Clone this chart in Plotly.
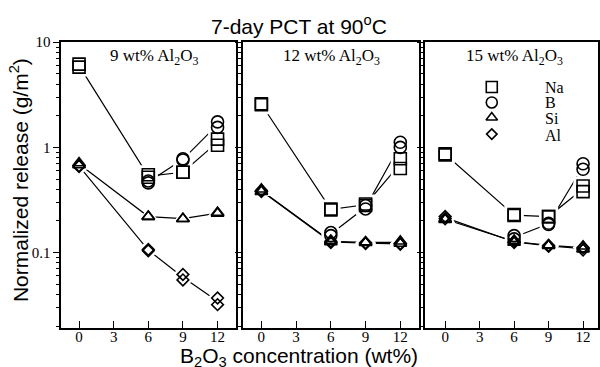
import plotly.graph_objects as go
import numpy as np

# ---------------- data ----------------
b2o3 = [0, 6, 9, 12]
x_ticks = [0, 3, 6, 9, 12]
panel_labels = ["9 wt% Al<sub>2</sub>O<sub>3</sub>",
                "12 wt% Al<sub>2</sub>O<sub>3</sub>",
                "15 wt% Al<sub>2</sub>O<sub>3</sub>"]
elements = ["Na", "B", "Si", "Al"]

# replicate 1 / replicate 2, per panel (9, 12, 15 wt% Al2O3)
na_9_r1 = [6.2, 0.55, 0.58, 1.20]
na_9_r2 = [5.8, 0.52, 0.58, 1.05]
b_9_r1 = [None, 0.48, 0.78, 1.75]
b_9_r2 = [None, 0.46, 0.76, 1.55]
si_9_r1 = [0.71, 0.22, 0.21, 0.24]
si_9_r2 = [0.68, 0.22, 0.21, 0.235]
al_9_r1 = [0.67, 0.107, 0.062, 0.037]
al_9_r2 = [0.66, 0.104, 0.055, 0.032]

na_12_r1 = [2.6, 0.26, 0.29, 0.78]
na_12_r2 = [2.55, 0.255, 0.28, 0.63]
b_12_r1 = [None, 0.155, 0.28, 1.12]
b_12_r2 = [None, 0.145, 0.26, 1.00]
si_12_r1 = [0.40, 0.130, 0.126, 0.128]
si_12_r2 = [0.38, 0.126, 0.124, 0.122]
al_12_r1 = [0.39, 0.128, 0.124, 0.122]
al_12_r2 = [0.38, 0.125, 0.122, 0.120]

na_15_r1 = [0.87, 0.230, 0.220, 0.43]
na_15_r2 = [0.85, 0.225, 0.220, 0.38]
b_15_r1 = [None, 0.145, 0.190, 0.70]
b_15_r2 = [None, 0.135, 0.185, 0.62]
si_15_r1 = [0.21, 0.130, 0.118, 0.115]
si_15_r2 = [0.205, 0.125, 0.116, 0.108]
al_15_r1 = [0.22, 0.128, 0.117, 0.112]
al_15_r2 = [0.21, 0.125, 0.115, 0.106]

panels = [
    {"Na": (na_9_r1, na_9_r2), "B": (b_9_r1, b_9_r2), "Si": (si_9_r1, si_9_r2), "Al": (al_9_r1, al_9_r2)},
    {"Na": (na_12_r1, na_12_r2), "B": (b_12_r1, b_12_r2), "Si": (si_12_r1, si_12_r2), "Al": (al_12_r1, al_12_r2)},
    {"Na": (na_15_r1, na_15_r2), "B": (b_15_r1, b_15_r2), "Si": (si_15_r1, si_15_r2), "Al": (al_15_r1, al_15_r2)},
]

# ---------------- style ----------------
SERIF = "Liberation Serif"
SANS = "Liberation Sans"
symbols = {"Na": "square-open", "B": "circle-open", "Si": "triangle-up-open", "Al": "diamond-open"}
sizes = {"Na": 12, "B": 12, "Si": 11, "Al": 9}

W, H = 600, 367
px_x = [(61.7, 236.7), (244.0, 420.7), (426.7, 600.0)]
x_ranges = [[-1.52, 13.59], [-1.57, 13.64], [-1.73, 13.3]]
y_top, y_bot = 35.0, 326.7
y_dom = [1 - y_bot / H, 1 - y_top / H]
y_range = [-1.713, 1.0]

minor_vals = [m * 10.0 ** e for e in (-2, -1, 0) for m in range(2, 10)]

fig = go.Figure()

def ax_name(i, kind):
    return kind if i == 0 else f"{kind}{i + 1}"

# lines (means of replicates)
for i, pdata in enumerate(panels):
    xa, ya = ax_name(i, "x"), ax_name(i, "y")
    for el in elements:
        r1, r2 = pdata[el]
        xs, ms = [], []
        for x, a, b in zip(b2o3, r1, r2):
            if a is None:
                continue
            xs.append(x)
            ms.append(float(np.sqrt(a * b)))
        fig.add_trace(go.Scatter(x=xs, y=ms, mode="lines", xaxis=xa, yaxis=ya,
                                 line=dict(color="black", width=1.2),
                                 showlegend=False, hoverinfo="skip"))
# white halos to break lines at markers
for i, pdata in enumerate(panels):
    xa, ya = ax_name(i, "x"), ax_name(i, "y")
    for el in elements:
        for rep in pdata[el]:
            fig.add_trace(go.Scatter(x=b2o3, y=rep, mode="markers", xaxis=xa, yaxis=ya,
                                     marker=dict(symbol=symbols[el].replace("-open", ""),
                                                 size=sizes[el] + 7, color="white",
                                                 line=dict(width=0)),
                                     showlegend=False, hoverinfo="skip"))
# markers
for i, pdata in enumerate(panels):
    xa, ya = ax_name(i, "x"), ax_name(i, "y")
    for el in elements:
        for rep in pdata[el]:
            fig.add_trace(go.Scatter(x=b2o3, y=rep, mode="markers", xaxis=xa, yaxis=ya, name=el,
                                     marker=dict(symbol=symbols[el], size=sizes[el], color="black",
                                                 line=dict(width=1.6, color="black")),
                                     showlegend=False))

# legend keys on an overlay axis in panel 3
leg_y = [0.843, 0.789, 0.736, 0.678]
for el, yy in zip(elements, leg_y):
    fig.add_trace(go.Scatter(x=[0.385], y=[yy], mode="markers", xaxis="x4", yaxis="y4",
                             marker=dict(symbol=symbols[el], size=sizes[el] - 1, color="black",
                                         line=dict(width=1.6, color="black")),
                             showlegend=False, hoverinfo="skip"))

layout = dict(
    width=W, height=H, margin=dict(l=0, r=0, t=0, b=0, pad=0),
    paper_bgcolor="white", plot_bgcolor="white", showlegend=False,
    font=dict(family=SERIF, size=14, color="black"),
)
for i in range(3):
    xk = "xaxis" if i == 0 else f"xaxis{i + 1}"
    yk = "yaxis" if i == 0 else f"yaxis{i + 1}"
    layout[xk] = dict(domain=[px_x[i][0] / W, px_x[i][1] / W], range=x_ranges[i],
                      anchor=ax_name(i, "y"), showgrid=False, zeroline=False,
                      showline=True, linecolor="black", linewidth=2, mirror=True,
                      tickmode="array", tickvals=x_ticks, ticks="inside", ticklen=7,
                      tickwidth=1.2, tickcolor="black", ticklabelstandoff=-6,
                      tickfont=dict(family=SERIF, size=15))
    layout[yk] = dict(domain=y_dom, type="log", range=y_range, anchor=ax_name(i, "x"),
                      showgrid=False, zeroline=False, showline=True, linecolor="black",
                      linewidth=2, mirror=True, tickmode="array", tickvals=[0.1, 1, 10],
                      ticktext=["0.1", "1", "10"], ticks="outside", ticklen=6, tickwidth=1.2,
                      tickcolor="black", showticklabels=(i == 0),
                      tickfont=dict(family=SERIF, size=15),
                      minor=dict(tickmode="array", tickvals=minor_vals, ticks="outside",
                                 ticklen=3.5, tickwidth=1, tickcolor="black"))
layout["xaxis4"] = dict(domain=[px_x[2][0] / W, px_x[2][1] / W], range=[0, 1], visible=False,
                        anchor="y4", overlaying="x3")
layout["yaxis4"] = dict(domain=y_dom, range=[0, 1], visible=False, anchor="x4", overlaying="y3")

def ann(text, px, py, font, xanchor="center", angle=0):
    return dict(text=text, x=px / W, y=1 - py / H, xref="paper", yref="paper",
                xanchor=xanchor, yanchor="middle", textangle=angle, showarrow=False,
                font=font)

annotations = [
    ann("7-day PCT at 90<sup>o</sup>C", 300, 17, dict(family=SANS, size=21)),
    ann("Normalized release (g/m<sup>2</sup>)", 19, 176, dict(family=SANS, size=21), angle=-90),
    ann("B<sub>2</sub>O<sub>3</sub> concentration (wt%)", 300, 357, dict(family=SANS, size=21)),
]
label_cx = [155, 333, 516]
for lab, cx in zip(panel_labels, label_cx):
    annotations.append(ann(lab, cx, 50, dict(family=SERIF, size=17)))
leg_py = [81, 97, 113, 130]
for el, py in zip(elements, leg_py):
    annotations.append(ann(el, 545, py, dict(family=SERIF, size=16), xanchor="left"))
layout["annotations"] = annotations

fig.update_layout(**layout)
fig.write_html("out.html", config={"displayModeBar": False},
               post_script="document.body.style.margin='0';document.body.style.overflow='hidden';")
